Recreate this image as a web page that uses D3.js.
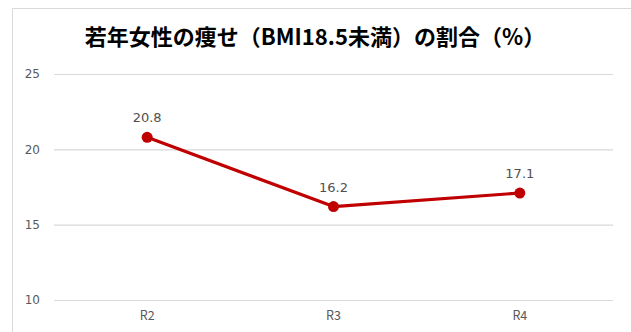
<!DOCTYPE html>
<html>
<head>
<meta charset="utf-8">
<script src="https://cdn.jsdelivr.net/npm/d3@7"></script>
<style>
  html, body { margin: 0; padding: 0; background: #fff; }
  svg { display: block; }
</style>
</head>
<body>
<svg id="chart" width="631" height="332"></svg>
<script>
// Share of underweight young women (BMI < 18.5), by fiscal year
const categories = ["R2", "R3", "R4"];
const values = [20.8, 16.2, 17.1];
const yTicks = [10, 15, 20, 25];
const titleText = "若年女性の痩せ（BMI18.5未満）の割合（%）";

const W = 631, H = 332;
const svg = d3.select("#chart");
const font = "'Noto Sans CJK JP', 'Noto Sans', sans-serif";
const numFont = "'DejaVu Sans', Verdana, sans-serif";

// chart frame
svg.append("path")
  .attr("d", `M12.5,${H} L12.5,8.5 L${W},8.5`)
  .attr("fill", "none")
  .attr("stroke", "#d9d9d9")
  .attr("stroke-width", 1);

const plot = { left: 54, right: 613, top: 74, bottom: 300 };

const x = d3.scaleBand().domain(categories).range([plot.left, plot.right]);
const y = d3.scaleLinear().domain([10, 25]).range([plot.bottom, plot.top]);

// gridlines
svg.append("g")
  .selectAll("line")
  .data(yTicks)
  .join("line")
  .attr("x1", plot.left).attr("x2", plot.right)
  .attr("y1", d => y(d) + 0.5).attr("y2", d => y(d) + 0.5)
  .attr("stroke", "#d9d9d9").attr("stroke-width", 1.2);

// y axis labels
const yAxis = d3.axisLeft(y).tickValues(yTicks).tickSize(0).tickPadding(0);
svg.append("g")
  .attr("transform", `translate(40,0)`)
  .call(yAxis)
  .call(g => g.select(".domain").remove())
  .call(g => g.selectAll("text")
    .attr("fill", "#595959")
    .attr("font-size", 12)
    .attr("font-family", numFont));

// x axis labels
const xAxis = d3.axisBottom(x).tickSize(0).tickPadding(0);
svg.append("g")
  .attr("transform", `translate(0,${plot.bottom + 11})`)
  .call(xAxis)
  .call(g => g.select(".domain").remove())
  .call(g => g.selectAll("text")
    .attr("fill", "#595959")
    .attr("font-size", 12.5)
    .attr("font-family", font));

const cx = d => x(d) + x.bandwidth() / 2;
const pts = categories.map((c, i) => ({ c, v: values[i] }));

// series line
svg.append("path")
  .datum(pts)
  .attr("fill", "none")
  .attr("stroke", "#c00000")
  .attr("stroke-width", 3.2)
  .attr("stroke-linejoin", "round")
  .attr("d", d3.line().x(d => cx(d.c)).y(d => y(d.v)));

// markers
svg.append("g")
  .selectAll("circle")
  .data(pts)
  .join("circle")
  .attr("cx", d => cx(d.c))
  .attr("cy", d => y(d.v))
  .attr("r", 5.5)
  .attr("fill", "#c00000");

// value labels
svg.append("g")
  .selectAll("text")
  .data(pts)
  .join("text")
  .attr("x", d => cx(d.c))
  .attr("y", d => y(d.v) - 15)
  .attr("text-anchor", "middle")
  .attr("fill", "#505050")
  .attr("font-size", 13)
  .attr("font-family", numFont)
  .text(d => d.v.toFixed(1));

// title
svg.append("text")
  .attr("x", 315)
  .attr("y", 45)
  .attr("text-anchor", "middle")
  .attr("font-size", 22)
  .attr("font-weight", "bold")
  .attr("fill", "#000")
  .attr("font-family", font)
  .text(titleText);
</script>
</body>
</html>
